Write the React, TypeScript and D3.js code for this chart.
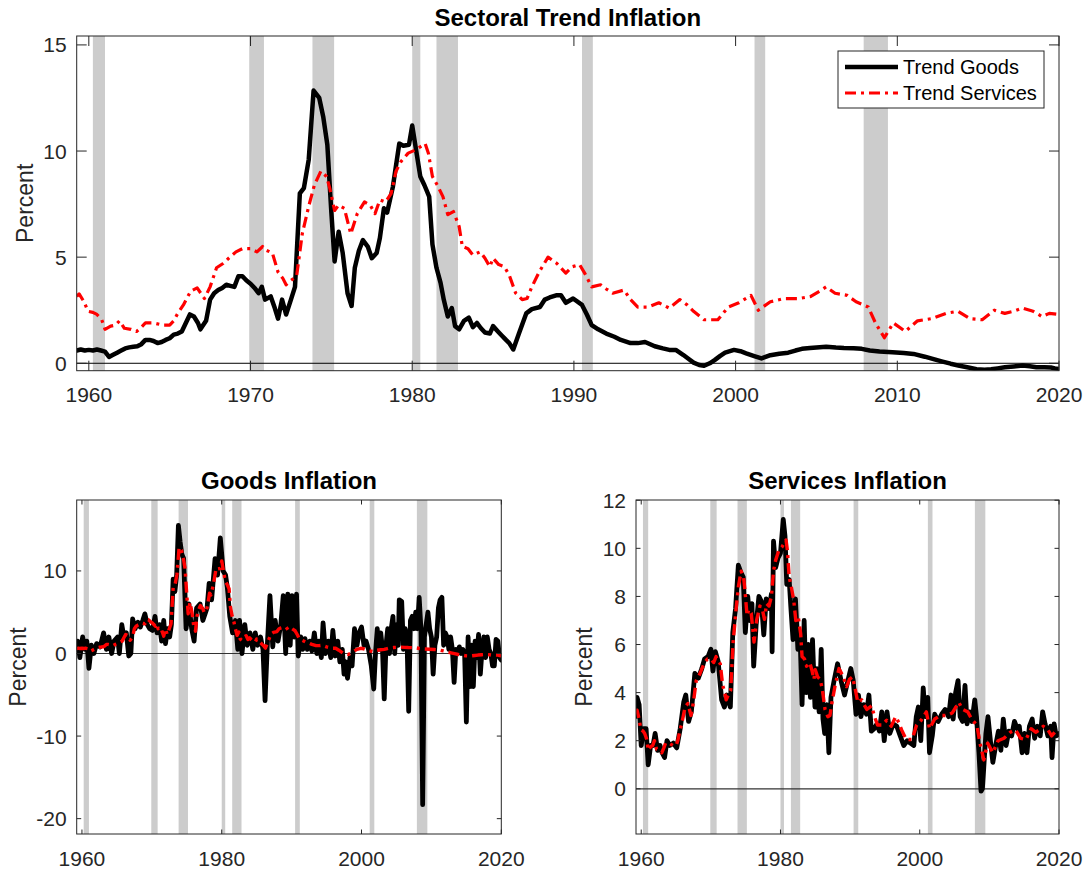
import React from "react";
import * as d3 from "d3";

// ---------- DATA ----------
const recessions: [number, number][] = [
  [1960.25, 1961.0], [1969.92, 1970.83], [1973.83, 1975.17], [1980.0, 1980.5],
  [1981.5, 1982.83], [1990.5, 1991.17], [2001.17, 2001.83], [2007.92, 2009.42],
];

const trendGoods: [number, number][] = [
  [1959.25,0.6],[1959.5,0.65],[1959.75,0.6],[1960,0.63],[1960.25,0.6],[1960.5,0.65],[1960.75,0.6],[1961,0.55],
  [1961.25,0.3],[1961.5,0.4],[1961.75,0.5],[1962,0.6],[1962.25,0.7],[1962.5,0.75],[1962.75,0.78],[1963,0.8],
  [1963.25,0.9],[1963.5,1.1],[1963.75,1.1],[1964,1.05],[1964.25,0.95],[1964.5,1.0],[1964.75,1.1],[1965,1.18],
  [1965.25,1.35],[1965.5,1.4],[1965.75,1.5],[1966,1.9],[1966.25,2.3],[1966.5,2.2],[1966.75,1.9],[1966.9,1.6],
  [1967.25,2.0],[1967.5,3.0],[1967.75,3.3],[1968,3.45],[1968.25,3.55],[1968.5,3.7],[1968.75,3.65],[1969,3.6],
  [1969.25,4.1],[1969.5,4.1],[1969.75,3.9],[1970,3.75],[1970.25,3.55],[1970.5,3.3],[1970.7,3.6],[1970.9,3.0],
  [1971.25,3.15],[1971.5,2.6],[1971.7,2.1],[1971.95,3.0],[1972.2,2.3],[1972.5,3.0],[1972.75,3.6],[1973.05,8.0],
  [1973.3,8.25],[1973.6,9.6],[1973.9,12.85],[1974.25,12.5],[1974.5,11.6],[1974.75,10.3],[1975.0,7.1],[1975.2,4.8],
  [1975.45,6.2],[1975.7,5.2],[1976,3.3],[1976.25,2.7],[1976.45,4.5],[1976.7,5.3],[1976.95,5.8],[1977.25,5.5],
  [1977.5,4.95],[1977.8,5.2],[1978,5.9],[1978.25,7.3],[1978.45,7.1],[1978.8,8.3],[1979.2,10.35],[1979.45,10.25],
  [1979.8,10.3],[1980,11.2],[1980.25,10.0],[1980.5,8.8],[1980.75,8.4],[1981.05,7.85],[1981.25,5.6],[1981.5,4.5],
  [1981.75,3.8],[1981.95,3.0],[1982.2,2.2],[1982.45,2.6],[1982.65,1.75],[1982.9,1.6],[1983.2,2.0],[1983.5,2.15],
  [1983.75,1.7],[1984,1.9],[1984.25,1.65],[1984.5,1.45],[1984.8,1.4],[1985,1.75],[1985.3,1.5],[1985.55,1.3],
  [1985.8,1.1],[1986,0.95],[1986.25,0.65],[1986.6,1.4],[1987.05,2.35],[1987.4,2.55],[1987.9,2.65],[1988.2,3.0],
  [1988.5,3.1],[1988.9,3.2],[1989.2,3.2],[1989.5,2.85],[1989.95,3.05],[1990.5,2.75],[1990.8,2.3],[1991.1,1.8],
  [1991.5,1.6],[1992,1.4],[1992.5,1.25],[1992.9,1.1],[1993.5,0.95],[1993.95,0.95],[1994.4,1.0],[1995,0.8],
  [1995.5,0.7],[1995.9,0.63],[1996.3,0.63],[1996.75,0.4],[1997.1,0.2],[1997.4,0.03],[1997.75,-0.08],[1998.05,-0.12],
  [1998.4,0.0],[1998.7,0.15],[1999.05,0.35],[1999.35,0.5],[1999.9,0.63],[2000.3,0.57],[2000.65,0.47],[2001.2,0.33],
  [2001.6,0.23],[2002.15,0.38],[2002.7,0.45],[2003.25,0.5],[2003.7,0.6],[2004.1,0.68],[2004.6,0.72],[2005.2,0.76],
  [2005.6,0.78],[2006.2,0.74],[2006.7,0.72],[2007.3,0.71],[2007.8,0.68],[2008.3,0.6],[2008.9,0.55],[2009.7,0.52],
  [2010.4,0.48],[2011,0.44],[2011.7,0.31],[2012.3,0.18],[2012.8,0.08],[2013.3,-0.02],[2013.85,-0.12],[2014.4,-0.2],
  [2014.9,-0.28],[2015.4,-0.3],[2015.8,-0.28],[2016.2,-0.24],[2016.65,-0.19],[2017.2,-0.15],[2017.75,-0.11],
  [2018.2,-0.14],[2018.6,-0.19],[2019.1,-0.19],[2019.5,-0.2],[2019.75,-0.24],[2020,-0.27],
];

const trendServices: [number, number][] = [
  [1959.25,3.15],[1959.4,3.27],[1959.7,2.9],[1959.95,2.45],[1960.25,2.4],[1960.5,2.3],[1960.8,2.05],[1961,1.6],
  [1961.35,1.75],[1961.65,1.8],[1961.9,2.0],[1962.2,1.65],[1962.6,1.6],[1962.95,1.5],[1963.25,1.7],[1963.5,1.9],
  [1964,1.9],[1964.55,1.8],[1965,1.8],[1965.25,2.0],[1965.5,2.35],[1965.85,2.75],[1966.3,3.4],[1966.7,3.55],
  [1967.15,3.05],[1967.5,3.6],[1967.9,4.5],[1968.3,4.7],[1968.65,4.95],[1969.1,5.25],[1969.5,5.4],[1970,5.4],
  [1970.4,5.25],[1970.75,5.5],[1970.9,5.35],[1971.35,5.2],[1971.7,4.3],[1972,4.0],[1972.2,3.7],[1972.5,3.9],
  [1972.85,4.1],[1973.2,6.1],[1973.6,7.4],[1973.95,8.4],[1974.35,9.05],[1974.7,8.8],[1974.9,8.25],[1975.2,7.2],
  [1975.45,7.45],[1975.8,7.3],[1976.2,6.1],[1976.6,7.05],[1977.05,7.6],[1977.4,7.45],[1977.7,7.05],[1978,7.7],
  [1978.35,7.6],[1978.7,8.0],[1979,9.05],[1979.3,9.5],[1979.75,9.9],[1980.2,10.05],[1980.5,10.2],[1980.8,10.35],
  [1981,9.9],[1981.25,8.8],[1981.55,8.4],[1981.9,7.85],[1982.2,7.0],[1982.55,7.15],[1982.9,6.45],[1983.1,5.5],
  [1983.45,5.4],[1983.75,5.1],[1984.2,5.25],[1984.5,4.95],[1984.8,4.55],[1985,4.95],[1985.35,4.65],[1985.7,4.55],
  [1986,4.15],[1986.4,3.3],[1986.8,3.0],[1987.1,3.05],[1987.4,3.6],[1987.85,4.3],[1988.4,5.0],[1988.95,4.7],
  [1989.5,4.25],[1989.9,4.55],[1990.35,4.65],[1990.7,4.2],[1991.1,3.6],[1991.65,3.7],[1992,3.5],[1992.4,3.3],
  [1993.1,3.45],[1993.5,3.0],[1993.95,2.65],[1994.6,2.65],[1995.25,2.85],[1995.9,2.6],[1996.55,3.0],[1997,2.75],
  [1997.4,2.45],[1998.05,2.05],[1998.9,2.05],[1999.55,2.65],[2000.2,2.85],[2000.95,3.2],[2001.4,2.5],[2002.15,2.9],
  [2003,3.05],[2003.9,3.05],[2004.65,3.15],[2005.2,3.4],[2005.6,3.6],[2006.15,3.3],[2006.9,3.2],[2007.45,2.9],
  [2008.2,2.65],[2008.65,1.9],[2009.2,1.2],[2009.75,1.9],[2010.5,1.5],[2011.25,2.0],[2012.1,2.1],[2013,2.35],
  [2013.75,2.45],[2014.5,2.1],[2015.25,2.05],[2016,2.5],[2016.65,2.35],[2017.2,2.45],[2017.75,2.6],[2018.4,2.45],
  [2018.95,2.2],[2019.4,2.35],[2020,2.3],
];

const goodsInflation: [number, number][] = [
  [1959.25,0.5],[1959.4,1.5],[1959.7,-0.5],[1960.1,2.0],[1960.45,0.5],[1960.7,1.5],[1961.0,-1.8],[1961.35,1.0],
  [1961.7,0.0],[1962.1,1.2],[1962.6,0.8],[1963.1,2.5],[1963.5,0.5],[1963.85,2.0],[1964.25,0.0],[1964.6,1.5],
  [1965.1,2.0],[1965.35,0.0],[1965.7,3.5],[1966.0,2.0],[1966.35,2.5],[1966.7,-0.3],[1967.0,0.0],[1967.25,4.2],
  [1967.6,3.0],[1968.0,3.8],[1968.35,3.2],[1968.7,4.0],[1969.0,4.8],[1969.35,3.5],[1969.7,3.0],[1970.1,2.8],
  [1970.45,4.5],[1970.75,2.5],[1971.1,3.5],[1971.4,1.5],[1971.7,4.0],[1971.95,1.2],[1972.25,3.0],[1972.55,2.0],
  [1972.8,3.5],[1973.05,9.0],[1973.3,7.5],[1973.55,9.5],[1973.8,15.5],[1974.05,13.5],[1974.3,12.0],[1974.55,11.5],
  [1974.9,3.0],[1975.3,6.0],[1975.7,3.0],[1976.05,1.5],[1976.4,5.5],[1976.9,6.0],[1977.3,4.0],[1977.9,5.5],
  [1978.2,8.5],[1978.55,6.5],[1979.05,11.5],[1979.4,9.5],[1979.8,14.0],[1980.2,10.0],[1980.55,9.5],[1980.8,8.0],
  [1981.15,4.5],[1981.55,2.5],[1981.95,4.0],[1982.3,0.5],[1982.55,4.0],[1982.9,0.0],[1983.3,3.5],[1983.65,1.0],
  [1984.05,2.5],[1984.45,0.5],[1984.8,2.5],[1985.15,1.0],[1985.55,2.0],[1985.9,0.5],[1986.2,-5.7],[1986.55,1.5],
  [1986.9,7.0],[1987.3,0.8],[1987.65,4.0],[1988.05,1.5],[1988.45,3.5],[1988.8,7.0],[1989.15,0.0],[1989.45,7.2],
  [1989.8,1.0],[1990.05,7.0],[1990.4,2.0],[1990.7,7.2],[1990.95,-0.3],[1991.3,2.0],[1991.6,0.5],[1991.9,1.8],
  [1992.25,0.5],[1992.6,1.5],[1992.9,0.3],[1993.25,2.5],[1993.6,0.0],[1993.9,1.5],[1994.25,-0.5],[1994.5,3.7],
  [1994.85,0.0],[1995.25,1.5],[1995.6,-0.5],[1995.9,2.8],[1996.25,-0.3],[1996.6,1.5],[1996.9,-1.0],[1997.25,0.5],
  [1997.5,-2.5],[1997.75,-1.0],[1998.0,-3.0],[1998.35,-0.5],[1998.65,-1.5],[1999.0,3.0],[1999.35,1.0],[1999.65,2.5],
  [2000.0,3.2],[2000.35,1.0],[2000.65,1.5],[2001.0,0.5],[2001.4,-1.5],[2001.75,-4.3],[2002.0,0.0],[2002.25,3.0],
  [2002.5,0.5],[2002.75,2.5],[2003.0,0.5],[2003.25,-5.5],[2003.5,1.0],[2003.75,3.0],[2004.0,0.0],[2004.25,3.0],
  [2004.5,4.5],[2004.75,0.0],[2005.0,3.5],[2005.25,1.0],[2005.4,6.5],[2005.75,6.3],[2006.0,0.5],[2006.25,3.0],
  [2006.5,2.0],[2006.75,-7.0],[2007.0,4.0],[2007.25,4.5],[2007.5,3.0],[2007.75,5.0],[2008.0,3.0],[2008.25,6.8],
  [2008.5,3.0],[2008.75,-18.3],[2009.0,2.0],[2009.25,3.5],[2009.5,5.0],[2009.75,3.0],[2010.0,2.0],[2010.25,-2.5],
  [2010.5,1.0],[2010.75,2.0],[2011.0,5.5],[2011.25,6.5],[2011.5,6.8],[2011.75,1.0],[2012.0,2.5],[2012.25,2.0],
  [2012.5,0.5],[2012.75,2.0],[2013.0,0.5],[2013.25,-3.5],[2013.5,0.5],[2013.75,0.0],[2014.0,0.8],[2014.25,0.0],
  [2014.5,0.5],[2014.75,0.0],[2015.0,-8.3],[2015.25,2.0],[2015.5,-4.0],[2015.75,1.0],[2016.0,-4.0],[2016.25,1.5],
  [2016.5,-0.5],[2016.75,2.3],[2017.0,-2.5],[2017.25,0.5],[2017.5,2.0],[2017.75,-0.5],[2018.0,2.0],[2018.25,0.5],
  [2018.5,0.0],[2018.75,-1.5],[2019.0,-1.5],[2019.25,1.7],[2019.5,1.5],[2019.75,-0.5],[2020.0,-0.8],
];

const servicesInflation: [number, number][] = [
  [1959.2,3.0],[1959.4,3.8],[1959.7,3.5],[1960,1.8],[1960.35,2.5],[1960.7,2.5],[1961,1.0],[1961.35,1.8],
  [1961.7,1.8],[1962,2.3],[1962.35,1.6],[1962.7,1.8],[1963,1.5],[1963.35,1.3],[1963.7,2.0],[1964.1,1.8],
  [1964.6,1.9],[1965.1,1.7],[1965.6,2.5],[1966.1,3.6],[1966.4,3.9],[1966.8,2.8],[1967.2,3.2],[1967.7,4.8],
  [1968.2,4.6],[1968.7,5.0],[1969.1,5.4],[1969.6,5.5],[1970,5.8],[1970.3,4.9],[1970.65,5.7],[1971.05,5.3],
  [1971.55,3.7],[1971.95,3.4],[1972.3,3.9],[1972.8,3.4],[1973.15,6.5],[1973.55,7.5],[1973.95,9.3],[1974.3,9.0],
  [1974.65,8.8],[1974.95,6.5],[1975.3,8.0],[1975.6,7.0],[1975.9,7.7],[1976.15,5.1],[1976.5,6.8],[1976.9,8.0],
  [1977.25,7.8],[1977.6,6.4],[1977.95,7.9],[1978.35,7.5],[1978.7,8.1],[1978.8,5.7],[1979.0,10.3],[1979.3,9.2],
  [1979.65,9.6],[1980,9.8],[1980.4,11.2],[1980.65,10.5],[1980.9,8.5],[1981.25,8.7],[1981.5,7.5],[1981.8,6.2],
  [1982.15,7.9],[1982.5,5.8],[1982.8,6.5],[1983.1,3.5],[1983.4,7.0],[1983.7,4.0],[1984,6.0],[1984.3,3.8],
  [1984.6,6.2],[1984.95,3.4],[1985.25,5.0],[1985.55,3.2],[1985.85,5.8],[1986.1,2.9],[1986.35,2.3],[1986.65,3.5],
  [1986.95,1.5],[1987.25,3.8],[1987.7,4.5],[1988.2,5.2],[1988.7,4.5],[1989.2,3.9],[1989.6,4.4],[1990.1,5.0],
  [1990.45,4.5],[1990.85,3.1],[1991.2,3.9],[1991.55,3.0],[1991.95,3.5],[1992.35,3.1],[1992.7,3.9],[1993.05,2.4],
  [1993.45,2.5],[1993.85,2.7],[1994.2,2.4],[1994.55,3.2],[1994.9,2.0],[1995.3,3.2],[1995.7,2.3],[1996.2,2.7],
  [1996.7,2.6],[1997.2,2.2],[1997.7,1.8],[1998.2,2.0],[1998.65,1.9],[1999.15,1.8],[1999.5,3.0],[1999.8,3.4],
  [2000.15,2.0],[2000.5,4.2],[2000.8,3.0],[2001.15,3.8],[2001.4,1.5],[2001.8,2.2],[2002.15,3.1],[2002.65,2.8],
  [2003.15,3.1],[2003.65,3.3],[2004.15,3.0],[2004.5,3.9],[2004.8,2.9],[2005.15,4.0],[2005.5,4.5],[2005.8,3.0],
  [2006.15,2.8],[2006.5,4.3],[2006.8,2.7],[2007.15,3.2],[2007.5,2.8],[2007.9,3.7],[2008.15,3.0],[2008.5,1.5],
  [2008.8,-0.1],[2009.0,0.0],[2009.2,0.9],[2009.5,2.3],[2009.8,3.0],[2010.15,2.0],[2010.5,1.1],[2010.9,1.8],
  [2011.3,2.4],[2011.65,1.6],[2012,2.9],[2012.4,1.8],[2012.8,2.4],[2013.2,2.2],[2013.6,2.8],[2014,2.5],
  [2014.3,2.6],[2014.7,1.5],[2015.05,2.3],[2015.4,1.5],[2015.75,2.6],[2016.15,2.9],[2016.5,2.1],[2016.9,2.6],
  [2017.3,2.2],[2017.65,3.2],[2018,2.7],[2018.4,2.2],[2018.8,2.6],[2019,1.3],[2019.3,2.7],[2019.6,2.2],[2020,2.3],
];

const topXTicks = [1960, 1970, 1980, 1990, 2000, 2010, 2020];
const topYTicks = [0, 5, 10, 15];
const bottomXTicks = [1960, 1980, 2000, 2020];
const goodsYTicks = [-20, -10, 0, 10];
const servicesYTicks = [0, 2, 4, 6, 8, 10, 12];

// ---------- STYLE ----------
const FONT = "'Liberation Sans', Arial, Helvetica, sans-serif";
const AX = "#262626";
const BAND = "#cccccc";
const DASHDOT = "11,5,3,5";

type Series = { data: [number, number][]; color: string; width: number; dash?: string };

type PanelProps = {
  left: number; right: number; top: number; bottom: number;
  xDomain: [number, number]; yDomain: [number, number];
  xTicks: number[]; yTicks: number[]; tickLen: number;
  title: string; titleY: number; ylabelX: number;
  xLabelY: number; zeroColor: string; zeroWidth: number;
  series: Series[];
  id: string;
};

function Panel(p: PanelProps) {
  const x = d3.scaleLinear().domain(p.xDomain).range([p.left, p.right]);
  const y = d3.scaleLinear().domain(p.yDomain).range([p.bottom, p.top]);
  const line = d3.line<[number, number]>().x((d) => x(d[0])).y((d) => y(d[1]));
  const cx = (p.left + p.right) / 2;
  const cy = (p.top + p.bottom) / 2;
  return (
    <g>
      <defs>
        <clipPath id={p.id}>
          <rect x={p.left} y={p.top} width={p.right - p.left} height={p.bottom - p.top} />
        </clipPath>
      </defs>
      <rect x={p.left} y={p.top} width={p.right - p.left} height={p.bottom - p.top} fill="#fff" />
      {recessions.map(([a, b], i) => (
        <rect key={i} x={x(a)} y={p.top} width={x(b) - x(a)} height={p.bottom - p.top} fill={BAND} />
      ))}
      <line x1={p.left} x2={p.right} y1={y(0)} y2={y(0)} stroke={p.zeroColor} strokeWidth={p.zeroWidth} />
      <g clipPath={`url(#${p.id})`}>
        {p.series.map((s, i) => (
          <path key={i} d={line(s.data) || ""} fill="none" stroke={s.color} strokeWidth={s.width}
            strokeDasharray={s.dash} strokeLinejoin="round" strokeLinecap={s.dash ? "butt" : "round"} />
        ))}
      </g>
      {p.xTicks.map((t) => (
        <g key={"x" + t}>
          <line x1={x(t)} x2={x(t)} y1={p.bottom} y2={p.bottom - p.tickLen} stroke={AX} strokeWidth={1} />
          <line x1={x(t)} x2={x(t)} y1={p.top} y2={p.top + p.tickLen} stroke={AX} strokeWidth={1} />
          <text x={x(t)} y={p.xLabelY} textAnchor="middle" fontSize={21} fill={AX} fontFamily={FONT}>{t}</text>
        </g>
      ))}
      {p.yTicks.map((t) => (
        <g key={"y" + t}>
          <line x1={p.left} x2={p.left + p.tickLen} y1={y(t)} y2={y(t)} stroke={AX} strokeWidth={1} />
          <line x1={p.right} x2={p.right - p.tickLen} y1={y(t)} y2={y(t)} stroke={AX} strokeWidth={1} />
          <text x={p.left - 10} y={y(t)} dy="0.36em" textAnchor="end" fontSize={21} fill={AX} fontFamily={FONT}>{t}</text>
        </g>
      ))}
      <rect x={p.left} y={p.top} width={p.right - p.left} height={p.bottom - p.top} fill="none" stroke={AX} strokeWidth={1} />
      <text x={cx} y={p.titleY} textAnchor="middle" fontSize={24} fontWeight="bold" fill="#000" fontFamily={FONT}>{p.title}</text>
      <text transform={`translate(${p.ylabelX},${cy}) rotate(-90)`} textAnchor="middle" fontSize={23} fill={AX} fontFamily={FONT}>Percent</text>
    </g>
  );
}

export default function App() {
  const legendX = 838, legendY = 51, legendW = 206, legendH = 57;
  return (
    <svg width={1089} height={873} style={{ position: "absolute", left: 0, top: 0, background: "#fff" }}>
      <rect width={1089} height={873} fill="#fff" />
      <Panel id="c1" left={76.7} right={1059} top={36} bottom={370.7}
        xDomain={[1959.25, 2020]} yDomain={[-0.35, 15.42]}
        xTicks={topXTicks} yTicks={topYTicks} tickLen={10}
        title="Sectoral Trend Inflation" titleY={26} ylabelX={33} xLabelY={402}
        zeroColor="#000" zeroWidth={1}
        series={[
          { data: trendGoods, color: "#000", width: 4.5 },
          { data: trendServices, color: "#ff0000", width: 3.2, dash: DASHDOT },
        ]} />
      <Panel id="c2" left={76.7} right={501.3} top={500} bottom={834}
        xDomain={[1959.25, 2020]} yDomain={[-21.86, 18.59]}
        xTicks={bottomXTicks} yTicks={goodsYTicks} tickLen={4.5}
        title="Goods Inflation" titleY={489} ylabelX={26} xLabelY={866}
        zeroColor="#333" zeroWidth={1.2}
        series={[
          { data: goodsInflation, color: "#000", width: 4.8 },
          { data: trendGoods, color: "#ff0000", width: 3.4, dash: DASHDOT },
        ]} />
      <Panel id="c3" left={636} right={1059} top={500} bottom={834}
        xDomain={[1959.25, 2020]} yDomain={[-1.88, 12.01]}
        xTicks={bottomXTicks} yTicks={servicesYTicks} tickLen={4.5}
        title="Services Inflation" titleY={489} ylabelX={592} xLabelY={866}
        zeroColor="#333" zeroWidth={1.2}
        series={[
          { data: servicesInflation, color: "#000", width: 4.8 },
          { data: trendServices, color: "#ff0000", width: 3.4, dash: DASHDOT },
        ]} />
      <g fontFamily={FONT}>
        <rect x={legendX} y={legendY} width={legendW} height={legendH} fill="#fff" stroke={AX} strokeWidth={1} />
        <line x1={845} x2={898} y1={67} y2={67} stroke="#000" strokeWidth={4.5} />
        <text x={903} y={67} dy="0.36em" fontSize={20} fill="#000">Trend Goods</text>
        <line x1={845} x2={898} y1={93} y2={93} stroke="#ff0000" strokeWidth={3.2} strokeDasharray={DASHDOT} />
        <text x={903} y={93} dy="0.36em" fontSize={20} fill="#000">Trend Services</text>
      </g>
    </svg>
  );
}
